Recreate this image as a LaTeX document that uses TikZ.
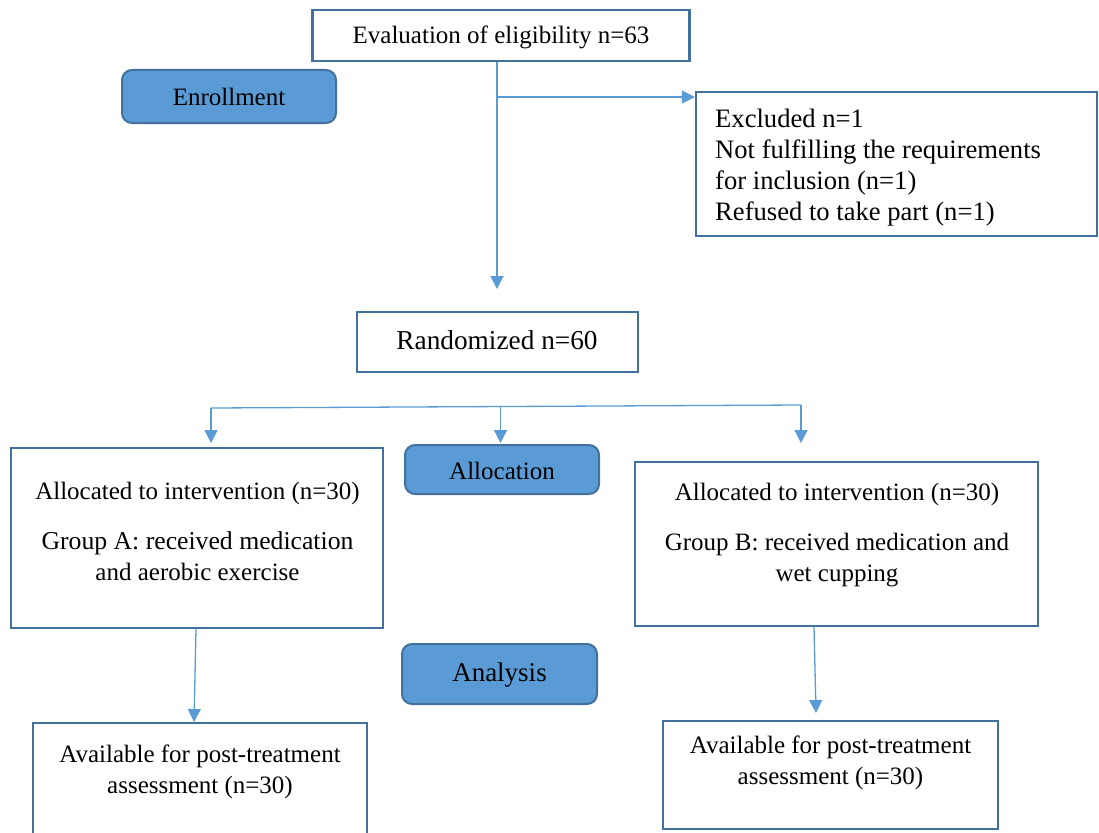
\documentclass[tikz,border=0pt]{standalone}
\usepackage{fontspec}
\setmainfont{Liberation Serif}
\usetikzlibrary{arrows.meta}
\definecolor{boxline}{HTML}{41719C}
\definecolor{arrowblue}{HTML}{5B9BD5}
\definecolor{fillblue}{HTML}{5B9BD5}
\begin{document}
\begin{tikzpicture}[x=1pt,y=-1pt,
  every node/.style={font=\fontsize{25}{31}\selectfont, inner sep=0pt},
  wbox/.style={draw=boxline, line width=2.2pt, fill=white, rectangle},
  bbox/.style={draw=boxline, line width=2pt, fill=fillblue, rectangle, rounded corners=10pt},
  txt/.style={align=center},
  arr/.style={draw=arrowblue, line width=1.3pt, -{Triangle[width=13pt,length=13pt]}},
  ln/.style={draw=arrowblue, line width=1.3pt}
]
\useasboundingbox (0,0) rectangle (1099,832);

% boxes
\node[wbox, minimum width=377pt, minimum height=51pt] (eval) at (501,35.5) {};
\node[bbox, minimum width=214pt, minimum height=53pt] (enroll) at (229,96.5) {};
\node[wbox, minimum width=401pt, minimum height=144pt] (excl) at (896.5,164) {};
\node[wbox, minimum width=281pt, minimum height=60pt] (rand) at (497.5,342) {};
\node[wbox, minimum width=372pt, minimum height=180pt] (allocA) at (197,538) {};
\node[bbox, minimum width=194pt, minimum height=49pt] (alloc) at (502,469.5) {};
\node[wbox, minimum width=403pt, minimum height=164pt] (allocB) at (836.5,544) {};
\node[bbox, minimum width=195pt, minimum height=60pt] (analysis) at (499.5,674) {};
\node[wbox, minimum width=334pt, minimum height=124pt] (availA) at (200,785) {};
\node[wbox, minimum width=335pt, minimum height=108pt] (availB) at (830.5,775) {};

% texts
\node[txt] (evalT) at (501,37) {Evaluation of eligibility n=63};
\node[txt] (enrollT) at (229,97) {Enrollment};
\node[align=left, anchor=west, font=\fontsize{26.6}{31}\selectfont] (exclT) at (715,168) {Excluded n=1\\Not fulfilling the requirements\\for inclusion (n=1)\\Refused to take part (n=1)};
\node[txt, font=\fontsize{27.3}{31}\selectfont] (randT) at (497,340) {Randomized n=60};
\node[txt] (allocAT) at (197.5,531) {Allocated to intervention (n=30)\\[19pt]{\fontsize{25.7}{31}\selectfont Group A: received medication}\\and aerobic exercise};
\node[txt] (allocT) at (502,471) {Allocation};
\node[txt] (allocBT) at (837,535) {Allocated to intervention (n=30)\\[19pt]Group B: received medication and\\wet cupping};
\node[txt, font=\fontsize{27}{31}\selectfont] (analysisT) at (499.5,675) {Analysis};
\node[txt] (availAT) at (200,772) {Available for post-treatment\\assessment (n=30)};
\node[txt] (availBT) at (830.5,763) {Available for post-treatment\\assessment (n=30)};

% connectors
\coordinate (t1) at (497,289);
\draw[arr] (eval.south -| t1) -- (t1);
\coordinate (b1) at (497,97);
\draw[arr] (b1) -- (b1 -| excl.west);

\coordinate (sL) at (211,408);
\coordinate (sM) at (500.5,407);
\coordinate (sR) at (801,405);
\draw[ln] (sL) -- (sR);
\coordinate (tL) at (211,443);
\coordinate (tM) at (500.5,443);
\coordinate (tR) at (801,443);
\draw[arr] (sL) -- (tL);
\draw[arr] (sM) -- (tM);
\draw[arr] (sR) -- (tR);

\coordinate (aA) at (196,0);
\coordinate (aAt) at (194,722);
\draw[arr] (allocA.south -| aA) -- (aAt);
\coordinate (aB) at (814,0);
\coordinate (aBt) at (816,713);
\draw[arr] (allocB.south -| aB) -- (aBt);
\end{tikzpicture}
\end{document}
